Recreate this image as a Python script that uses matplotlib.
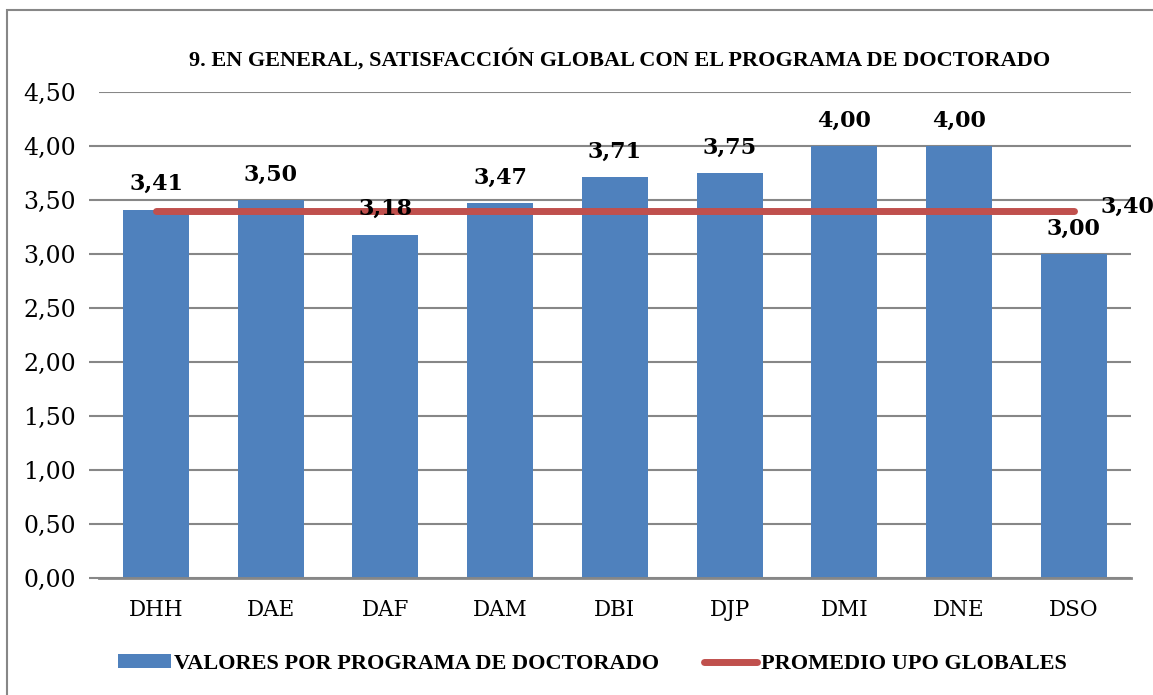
import matplotlib
matplotlib.use("Agg")
import matplotlib.pyplot as plt
from matplotlib.patches import Rectangle, Patch
from matplotlib.lines import Line2D
import numpy as np

categories = ["DHH", "DAE", "DAF", "DAM", "DBI", "DJP", "DMI", "DNE", "DSO"]
values = [3.41, 3.50, 3.18, 3.47, 3.71, 3.75, 4.00, 4.00, 3.00]
promedio = 3.40
yticks = [0.0, 0.5, 1.0, 1.5, 2.0, 2.5, 3.0, 3.5, 4.0, 4.5]
title = "9. EN GENERAL, SATISFACCIÓN GLOBAL CON EL PROGRAMA DE DOCTORADO"
legend_bar = "VALORES POR PROGRAMA DE DOCTORADO"
legend_line = "PROMEDIO UPO GLOBALES"

plt.rcParams['font.family'] = ['DejaVu Serif']
cond = ['Liberation Serif', 'DejaVu Serif']

W, H = 1153, 695
fig = plt.figure(figsize=(W / 100, H / 100), dpi=100)

# outer border
fig.patches.append(Rectangle((7 / W, -0.05), 1.2, 1 - 10 / H + 0.05, transform=fig.transFigure,
                             fill=False, edgecolor="#878787", linewidth=1.5))

ax = fig.add_axes([98.7 / W, 1 - 578 / H, (1131 - 98.7) / W, (578 - 92) / H])
x = np.arange(len(categories))
bar_color = "#4F81BD"
line_color = "#C0504D"
ax.bar(x, values, width=0.575, color=bar_color, zorder=2)
ax.plot([x[0], x[-1]], [promedio, promedio], color=line_color, linewidth=5,
        solid_capstyle="round", zorder=3)

for xi, v in zip(x, values):
    ax.annotate(f"{v:.2f}".replace(".", ","), (xi, v), xytext=(0, 18.5), textcoords="offset points",
                ha="center", va="center", fontsize=16, fontweight="bold", zorder=4)
ax.annotate(f"{promedio:.2f}".replace(".", ","), (x[-1], promedio), xytext=(19, 2.7),
            textcoords="offset points", ha="left", va="center", fontsize=16,
            fontweight="bold", zorder=4)

ax.set_xlim(-0.5, len(categories) - 0.5)
ax.set_ylim(0, 4.5)
ax.set_yticks(yticks)
ax.set_yticklabels([f"{t:.2f}".replace(".", ",") for t in yticks], fontsize=17)
ax.set_xticks(x)
ax.set_xticklabels(categories, fontsize=15.5)
ax.tick_params(axis="x", length=0, pad=15)
ax.tick_params(axis="y", length=7.2, width=1.5, color="#878787", pad=9)
ax.yaxis.get_major_ticks()[-1].tick1line.set_visible(False)
ax.yaxis.grid(True, color="#878787", linewidth=1.5, zorder=1)
ax.set_axisbelow(True)
for s in ["left", "right", "top"]:
    ax.spines[s].set_visible(False)
ax.spines["bottom"].set_color("#878787")
ax.spines["bottom"].set_linewidth(2)

fig.text(620 / W, 1 - 60 / H, title, ha="center", va="center", fontsize=16,
         fontweight="bold", family=cond)

handles = [Patch(facecolor=bar_color, edgecolor="none"),
           Line2D([0], [0], color=line_color, linewidth=5, solid_capstyle="round")]
leg = fig.legend(handles, [legend_bar, legend_line], loc="center", ncol=2,
                 bbox_to_anchor=(592 / W, 1 - 664 / H), frameon=False,
                 prop={"size": 16, "weight": "bold", "family": cond}, handlelength=2.4,
                 handleheight=0.6, handletextpad=0.15, columnspacing=2.0)

fig.savefig("out.png", dpi=100)
